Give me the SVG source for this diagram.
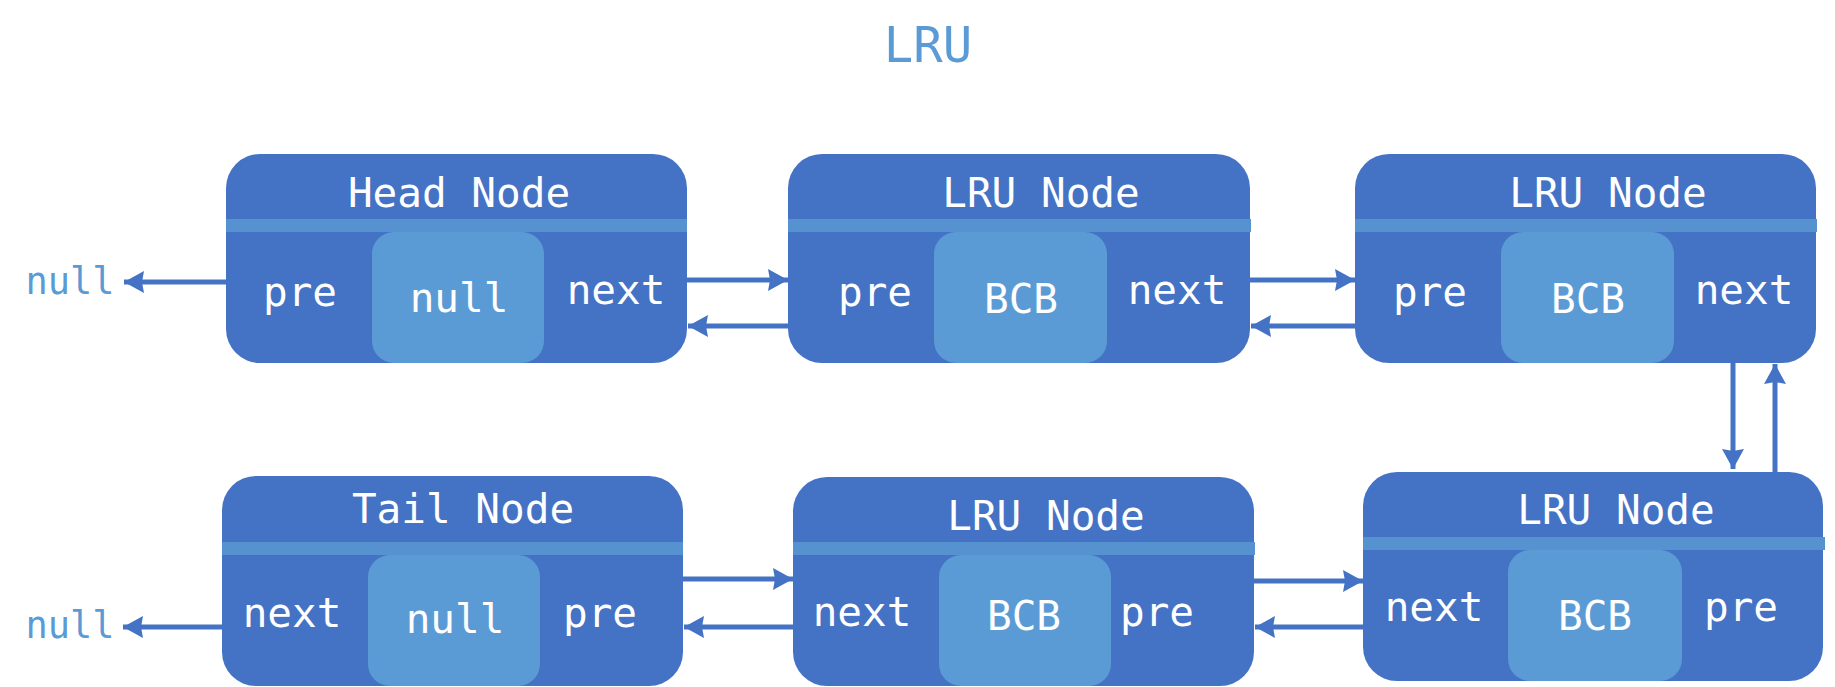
<svg xmlns="http://www.w3.org/2000/svg" width="1835" height="687" viewBox="0 0 1835 687">
<style>
.box{fill:#4472C4}
.bar{fill:#5691D0}
.cell{fill:#5B9BD5}
.t{font-family:"DejaVu Sans Mono","Liberation Mono",monospace;font-size:41px;fill:#FFFFFF;text-anchor:middle}
.ext{font-family:"DejaVu Sans Mono","Liberation Mono",monospace;font-size:37px;fill:#5B9BD5;text-anchor:middle}
.title{font-family:"DejaVu Sans Mono","Liberation Mono",monospace;font-size:49px;fill:#5B9BD5;text-anchor:middle}
.c{stroke:#4472C4;stroke-width:5;fill:none;marker-end:url(#ah)}
</style>
<defs>
<marker id="ah" markerUnits="userSpaceOnUse" markerWidth="30" markerHeight="30" viewBox="-26 -15 30 30" refX="0" refY="0" orient="auto" overflow="visible">
<path d="M0,0 L-20,-11 L-18,0 L-20,11 Z" fill="#4472C4"/>
</marker>
</defs>
<text class="title" x="928" y="62">LRU</text>
<g id="head">
<rect class="box" x="226" y="154" width="461" height="209" rx="34"/>
<rect class="bar" x="226" y="219" width="461" height="13"/>
<rect class="cell" x="372" y="232" width="172" height="131" rx="22"/>
<text class="t" x="459" y="207">Head Node</text>
<text class="t" x="300" y="306">pre</text>
<text class="t" x="459" y="312">null</text>
<text class="t" x="616" y="304">next</text>
</g>
<g id="node2">
<rect class="box" x="788" y="154" width="462" height="209" rx="34"/>
<rect class="bar" x="788" y="219" width="463" height="13"/>
<rect class="cell" x="934" y="232" width="173" height="131" rx="22"/>
<text class="t" x="1041" y="207">LRU Node</text>
<text class="t" x="875" y="306">pre</text>
<text class="t" x="1021" y="313">BCB</text>
<text class="t" x="1177" y="304">next</text>
</g>
<g id="node3">
<rect class="box" x="1355" y="154" width="461" height="209" rx="34"/>
<rect class="bar" x="1355" y="219" width="462" height="13"/>
<rect class="cell" x="1501" y="232" width="173" height="131" rx="22"/>
<text class="t" x="1608" y="207">LRU Node</text>
<text class="t" x="1430" y="306">pre</text>
<text class="t" x="1588" y="313">BCB</text>
<text class="t" x="1744" y="304">next</text>
</g>
<g id="tail">
<rect class="box" x="222" y="476" width="461" height="210" rx="34"/>
<rect class="bar" x="222" y="542" width="461" height="13"/>
<rect class="cell" x="368" y="555" width="172" height="131" rx="22"/>
<text class="t" x="463" y="523">Tail Node</text>
<text class="t" x="292" y="627">next</text>
<text class="t" x="455" y="633">null</text>
<text class="t" x="600" y="627">pre</text>
</g>
<g id="node5">
<rect class="box" x="793" y="477" width="461" height="209" rx="34"/>
<rect class="bar" x="793" y="542" width="462" height="13"/>
<rect class="cell" x="939" y="555" width="172" height="131" rx="22"/>
<text class="t" x="1046" y="530">LRU Node</text>
<text class="t" x="862" y="626">next</text>
<text class="t" x="1024" y="630">BCB</text>
<text class="t" x="1157" y="626">pre</text>
</g>
<g id="node6">
<rect class="box" x="1363" y="472" width="460" height="209" rx="34"/>
<rect class="bar" x="1363" y="537" width="462" height="13"/>
<rect class="cell" x="1508" y="550" width="174" height="131" rx="22"/>
<text class="t" x="1616" y="524">LRU Node</text>
<text class="t" x="1434" y="621">next</text>
<text class="t" x="1595" y="630">BCB</text>
<text class="t" x="1741" y="621">pre</text>
</g>
<g id="null-labels">
<text class="ext" x="70" y="294">null</text>
<text class="ext" x="70" y="638">null</text>
</g>
<g id="connectors">
<line class="c" x1="226" y1="282" x2="124" y2="282"/>
<line class="c" x1="687" y1="280" x2="788" y2="280"/>
<line class="c" x1="788" y1="326" x2="688" y2="326"/>
<line class="c" x1="1250" y1="280" x2="1355" y2="280"/>
<line class="c" x1="1355" y1="326" x2="1251" y2="326"/>
<line class="c" x1="1733" y1="363" x2="1733" y2="469"/>
<line class="c" x1="1775" y1="472" x2="1775" y2="364"/>
<line class="c" x1="222" y1="627" x2="123" y2="627"/>
<line class="c" x1="683" y1="579" x2="793" y2="579"/>
<line class="c" x1="793" y1="627" x2="684" y2="627"/>
<line class="c" x1="1254" y1="581" x2="1363" y2="581"/>
<line class="c" x1="1363" y1="627" x2="1255" y2="627"/>
</g>
</svg>
